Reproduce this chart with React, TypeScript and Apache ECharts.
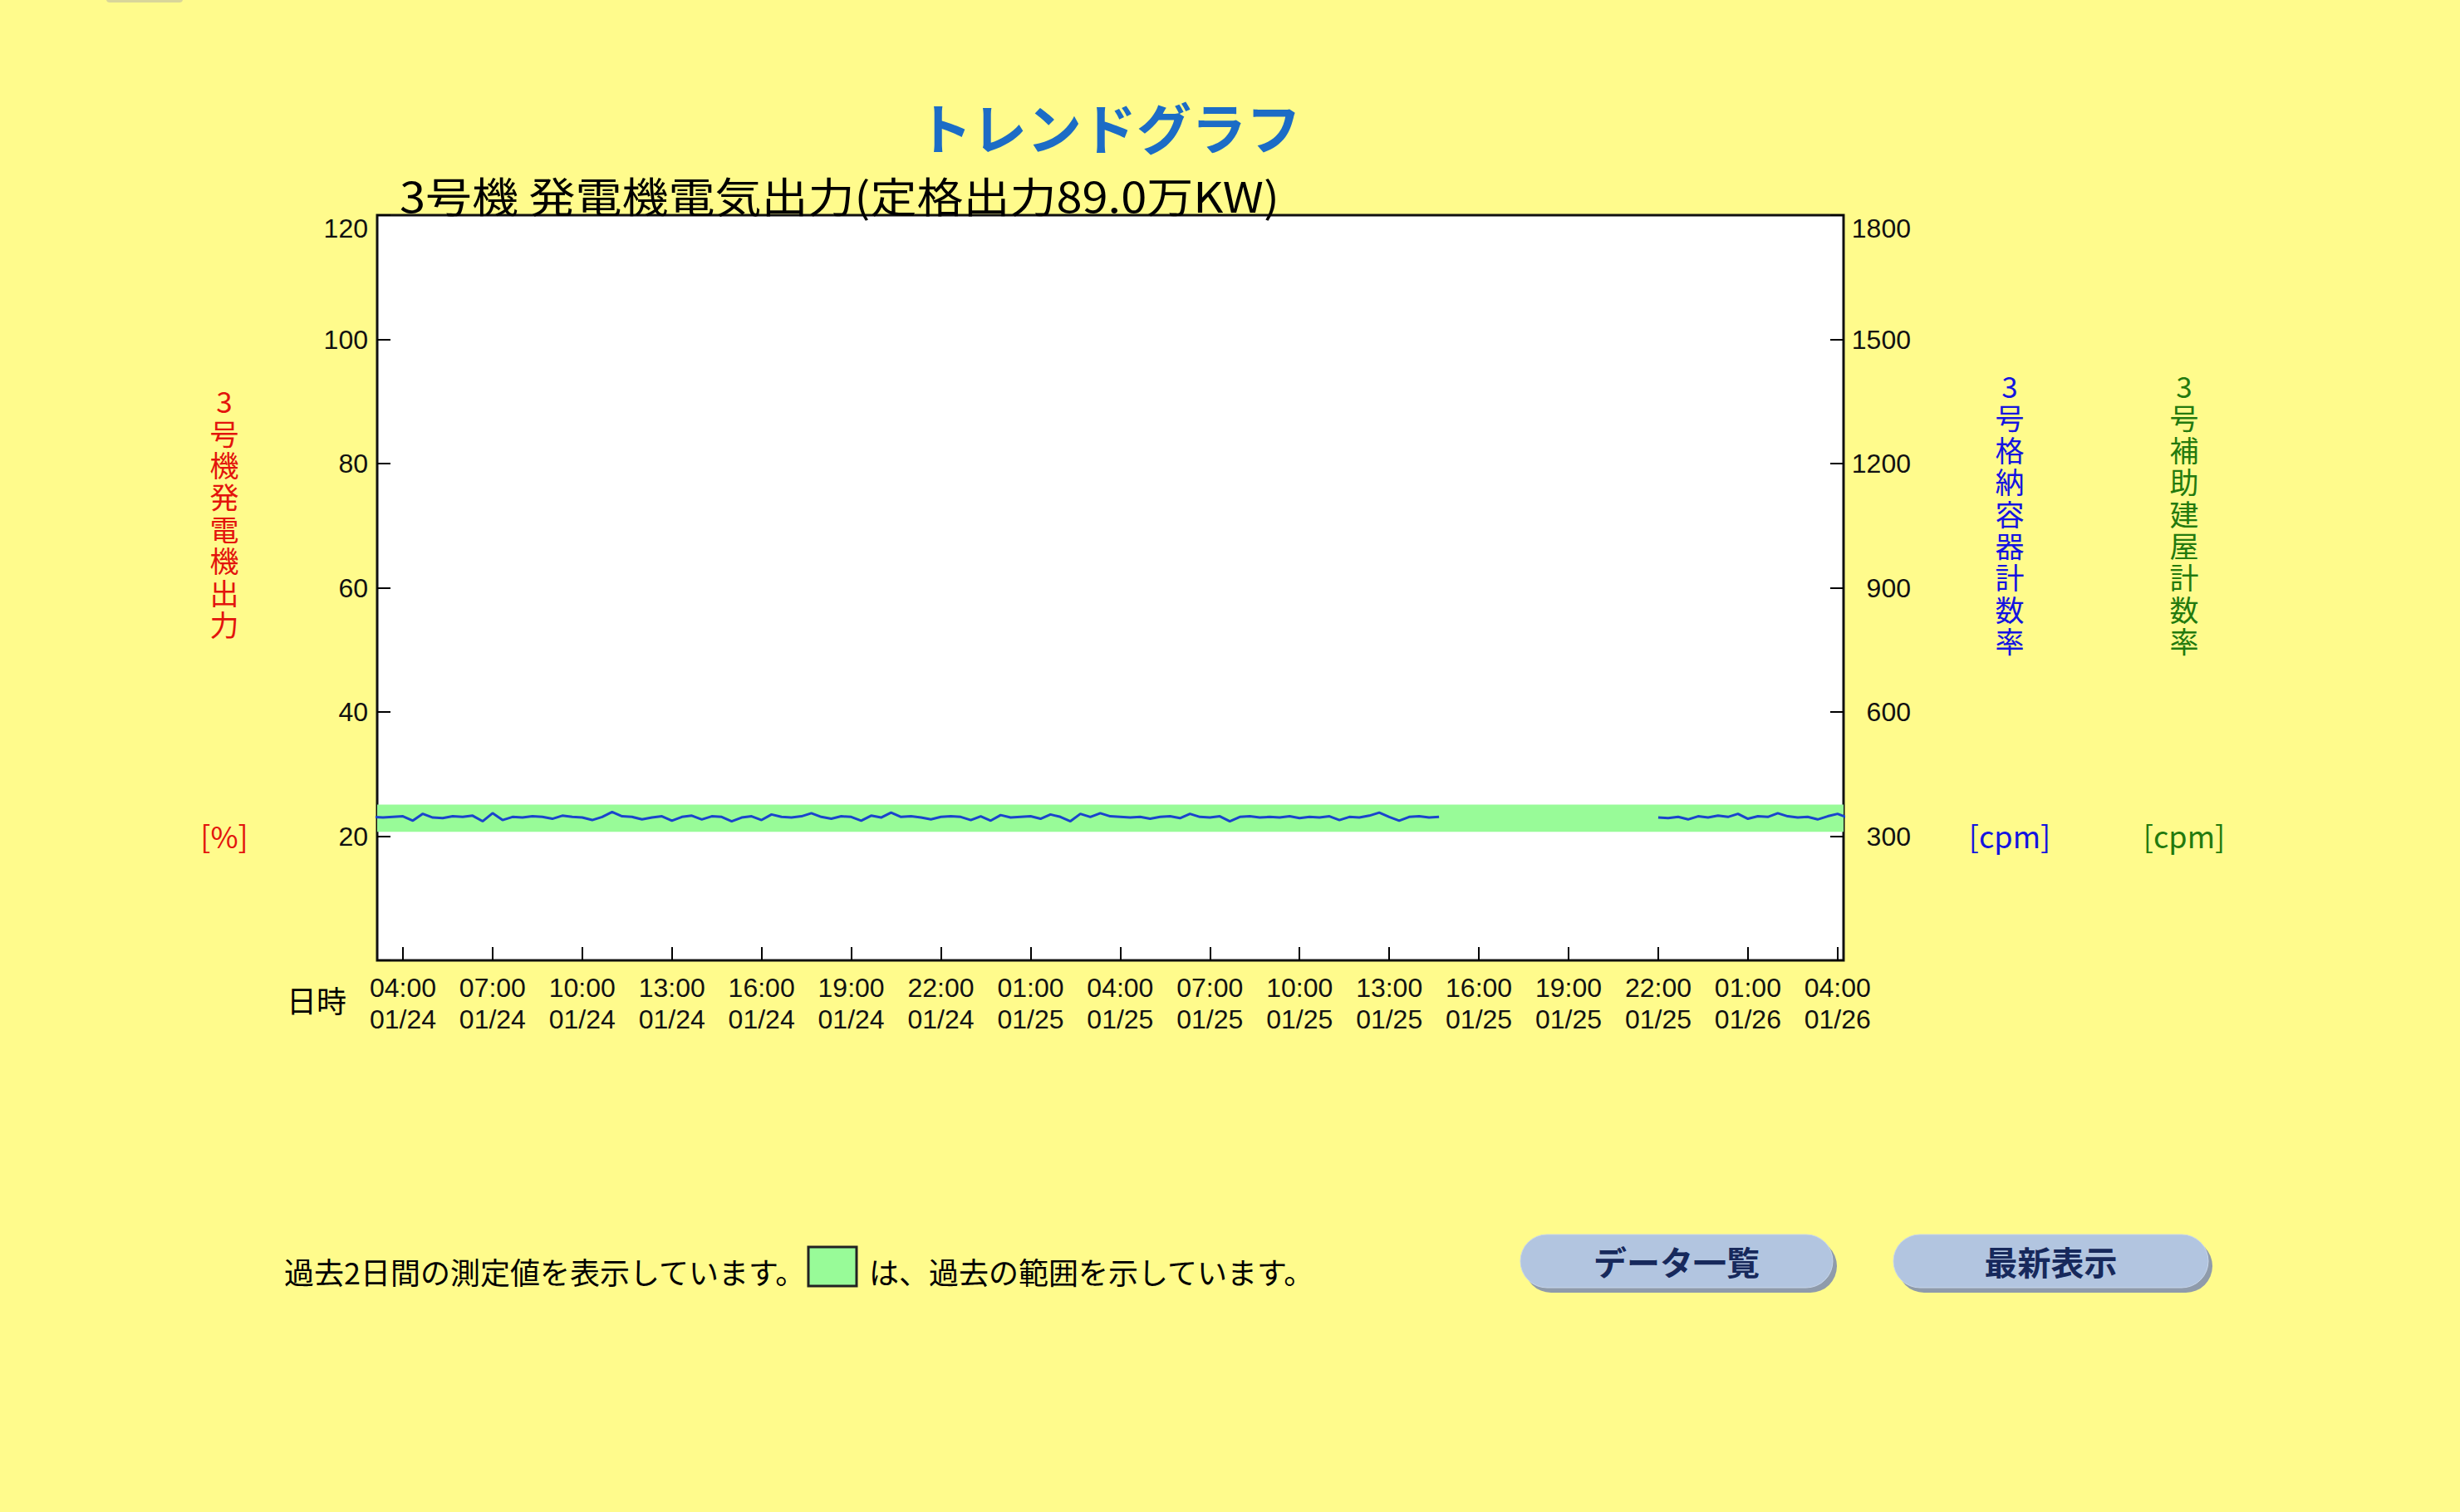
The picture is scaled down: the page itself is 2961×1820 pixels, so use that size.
import React, { useEffect, useRef } from "react";
import * as echarts from "echarts";

// ---- data ----
const TITLE = "トレンドグラフ";
const SUBTITLE = "3号機 発電機電気出力(定格出力89.0万KW)";
const LEFT_AXIS_NAME = "3号機発電機出力";
const RIGHT_AXIS_NAME_1 = "3号格納容器計数率";
const RIGHT_AXIS_NAME_2 = "3号補助建屋計数率";
const LEFT_UNIT = "[%]";
const RIGHT_UNIT = "[cpm]";
const X_NAME = "日時";
const NOTE_1 = "過去2日間の測定値を表示しています。";
const NOTE_2 = "は、過去の範囲を示しています。";
const BUTTONS = ["データ一覧", "最新表示"];

// hours counted from 01/24 00:00
const X_MIN = 3.14;
const X_MAX = 52.2;
const X_TICKS = [4, 7, 10, 13, 16, 19, 22, 25, 28, 31, 34, 37, 40, 43, 46, 49, 52];
const LEFT_Y_TICKS = [0, 20, 40, 60, 80, 100, 120];
const RIGHT_Y_TICKS = [0, 300, 600, 900, 1200, 1500, 1800];

// past range band (%)
const BAND_LOW = 20.7;
const BAND_HIGH = 25.1;

// measured output (%), every 20 min
const SEG1_START = 3.0; // 01/24 03:00
const SEG1_VALUES = [
  23.1, 23.0, 23.1, 23.2, 22.5, 23.6, 23.0, 22.9, 23.2, 23.1, 23.3, 22.4,
  23.7, 22.6, 23.1, 23.0, 23.2, 23.1, 22.8, 23.3, 23.1, 23.0, 22.6, 23.1,
  23.9, 23.2, 23.1, 22.7, 23.0, 23.2, 22.5, 23.1, 23.3, 22.7, 23.2, 23.1,
  22.4, 23.0, 23.2, 22.6, 23.5, 23.1, 23.0, 23.2, 23.7, 23.1, 22.8, 23.2,
  23.1, 22.5, 23.3, 23.0, 23.8, 23.1, 23.2, 23.0, 22.7, 23.1, 23.2, 23.1,
  22.6, 23.2, 22.5, 23.4, 23.0, 23.1, 23.2, 22.8, 23.5, 23.1, 22.4, 23.6,
  23.1, 23.7, 23.2, 23.1, 23.0, 23.1, 22.8, 23.1, 23.2, 22.9, 23.6, 23.1,
  23.0, 23.2, 22.4, 23.1, 23.2, 23.0, 23.1, 23.0, 23.2, 22.9, 23.1, 23.0,
  23.2, 22.6, 23.1, 23.0, 23.3, 23.8, 23.1, 22.5, 23.1, 23.2, 23.0, 23.1,
];
const SEG2_START = 46.0; // 01/25 22:00
const SEG2_VALUES = [
  23.0, 22.9, 23.1, 22.7, 23.2, 23.0, 23.3, 23.1, 23.6, 22.8,
  23.2, 23.1, 23.7, 23.2, 23.0, 23.1, 22.7, 23.2, 23.6, 23.0,
];
const STEP_H = 1 / 3;

// ---- styles ----
const BG = "#fffb8c";
const FONT_JP = "'Noto Sans CJK JP', 'Noto Sans', sans-serif";
const FONT_NUM = "'Liberation Sans', 'DejaVu Sans', sans-serif";
const RED = "#e3140c";
const BLUE = "#1414e0";
const GREEN = "#237a0e";

function fmtX(v: number) {
  const h = Math.round(v);
  const hh = ((h % 24) + 24) % 24;
  const day = 24 + Math.floor(h / 24);
  return `${String(hh).padStart(2, "0")}:00\n01/${day}`;
}

function verticalText(s: string, cx: number, cy: number, size: number, step: number, fill: string) {
  const chars = s.split("");
  const top = cy - ((chars.length - 1) * step) / 2;
  return chars.map((c, i) => ({
    type: "text",
    style: {
      text: c,
      x: cx,
      y: top + i * step,
      align: "center",
      verticalAlign: "middle",
      fontFamily: FONT_JP,
      fontSize: size,
      fill,
    },
  }));
}

export default function App() {
  const ref = useRef<HTMLDivElement>(null);

  useEffect(() => {
    if (!ref.current) return;
    const chart = echarts.init(ref.current, undefined, { renderer: "svg" });

    const lineData: (number | null)[][] = [];
    SEG1_VALUES.forEach((v, i) => lineData.push([SEG1_START + i * STEP_H, v]));
    lineData.push([(SEG1_START + SEG1_VALUES.length * STEP_H + SEG2_START) / 2, null]);
    SEG2_VALUES.forEach((v, i) => lineData.push([SEG2_START + i * STEP_H, v]));

    const tickStyle = { color: "#000", width: 2 };
    const numLabel = { fontFamily: FONT_NUM, fontSize: 32, color: "#111" };

    const button = (x: number, y: number, w: number, h: number, label: string) => ({
      type: "group",
      children: [
        {
          type: "rect",
          shape: { x: x + 5, y: y + 6, width: w, height: h, r: h / 2 },
          style: { fill: "#8f9bab" },
        },
        {
          type: "rect",
          shape: { x, y, width: w, height: h, r: h / 2 },
          style: { fill: "#b2c5e0", stroke: "#c8d6ea", lineWidth: 1 },
        },
        {
          type: "text",
          style: {
            text: label,
            x: x + w / 2,
            y: y + h / 2,
            align: "center",
            verticalAlign: "middle",
            fontFamily: FONT_JP,
            fontWeight: "bold",
            fontSize: 40,
            fill: "#17295c",
          },
        },
      ],
    });

    chart.setOption({
      animation: false,
      backgroundColor: BG,
      grid: {
        left: 454,
        top: 259,
        width: 1765,
        height: 897,
        show: true,
        backgroundColor: "#ffffff",
        borderColor: "#111",
        borderWidth: 3,
        containLabel: false,
      },
      xAxis: {
        type: "value",
        min: X_MIN,
        max: X_MAX,
        axisLine: { show: false },
        splitLine: { show: false },
        axisTick: {
          show: true,
          inside: true,
          length: 16,
          lineStyle: tickStyle,
          customValues: X_TICKS,
        },
        axisLabel: {
          ...numLabel,
          customValues: X_TICKS,
          formatter: (v: number) => fmtX(v),
          margin: 14,
          lineHeight: 38,
          showMinLabel: true,
          showMaxLabel: true,
        },
      },
      yAxis: [
        {
          type: "value",
          position: "left",
          min: 0,
          max: 120,
          interval: 20,
          axisLine: { show: false },
          splitLine: { show: false },
          axisTick: { show: true, inside: true, length: 16, lineStyle: tickStyle },
          axisLabel: {
            ...numLabel,
            customValues: LEFT_Y_TICKS,
            margin: 11,
            formatter: (v: number) => (v === 0 ? "" : String(v)),
            verticalAlignMaxLabel: "top",
          },
        },
        {
          type: "value",
          position: "right",
          min: 0,
          max: 1800,
          interval: 300,
          axisLine: { show: false },
          splitLine: { show: false },
          axisTick: { show: true, inside: true, length: 16, lineStyle: tickStyle },
          axisLabel: {
            ...numLabel,
            customValues: RIGHT_Y_TICKS,
            margin: 81,
            align: "right",
            formatter: (v: number) => (v === 0 ? "" : String(v)),
            verticalAlignMaxLabel: "top",
          },
        },
      ],
      series: [
        {
          type: "line",
          xAxisIndex: 0,
          yAxisIndex: 0,
          data: lineData,
          symbol: "none",
          connectNulls: false,
          clip: true,
          z: 5,
          lineStyle: { color: "#1a44cc", width: 3 },
          markArea: {
            silent: true,
            itemStyle: { color: "#98fb98", opacity: 1 },
            data: [[{ xAxis: X_MIN, yAxis: BAND_LOW }, { xAxis: X_MAX, yAxis: BAND_HIGH }]],
          },
        },
      ],
      graphic: [
        {
          type: "rect",
          shape: { x: 128, y: -10, width: 92, height: 13, r: 4 },
          style: { fill: "#d9d59a" },
        },
        {
          type: "text",
          style: {
            text: TITLE,
            x: 1335,
            y: 151,
            align: "center",
            verticalAlign: "middle",
            fontFamily: FONT_JP,
            fontWeight: "bold",
            fontSize: 66,
            fill: "#1c6cc6",
          },
        },
        {
          type: "text",
          x: 481,
          y: 234,
          scaleX: 1.12,
          style: {
            text: SUBTITLE,
            x: 0,
            y: 0,
            align: "left",
            verticalAlign: "middle",
            fontFamily: FONT_JP,
            fontSize: 50,
            fill: "#000",
          },
        },
        ...verticalText(LEFT_AXIS_NAME, 270, 616, 35, 38.4, RED),
        {
          type: "text",
          style: {
            text: LEFT_UNIT,
            x: 270,
            y: 1005,
            align: "center",
            verticalAlign: "middle",
            fontFamily: FONT_JP,
            fontSize: 36,
            fill: RED,
          },
        },
        ...verticalText(RIGHT_AXIS_NAME_1, 2419, 617, 35, 38.4, BLUE),
        {
          type: "text",
          style: {
            text: RIGHT_UNIT,
            x: 2419,
            y: 1005,
            align: "center",
            verticalAlign: "middle",
            fontFamily: FONT_JP,
            fontSize: 36,
            fill: BLUE,
          },
        },
        ...verticalText(RIGHT_AXIS_NAME_2, 2629, 617, 35, 38.4, GREEN),
        {
          type: "text",
          style: {
            text: RIGHT_UNIT,
            x: 2629,
            y: 1005,
            align: "center",
            verticalAlign: "middle",
            fontFamily: FONT_JP,
            fontSize: 36,
            fill: GREEN,
          },
        },
        {
          type: "text",
          style: {
            text: X_NAME,
            x: 381,
            y: 1203,
            align: "center",
            verticalAlign: "middle",
            fontFamily: FONT_JP,
            fontSize: 36,
            fill: "#000",
          },
        },
        {
          type: "text",
          style: {
            text: NOTE_1,
            x: 342,
            y: 1530,
            align: "left",
            verticalAlign: "middle",
            fontFamily: FONT_JP,
            fontSize: 36,
            fill: "#000",
          },
        },
        {
          type: "rect",
          shape: { x: 973, y: 1501, width: 58, height: 47 },
          style: { fill: "#98fb98", stroke: "#222", lineWidth: 3 },
        },
        {
          type: "text",
          style: {
            text: NOTE_2,
            x: 1046,
            y: 1530,
            align: "left",
            verticalAlign: "middle",
            fontFamily: FONT_JP,
            fontSize: 36,
            fill: "#000",
          },
        },
        button(1830, 1486, 376, 64, BUTTONS[0]),
        button(2279, 1486, 379, 64, BUTTONS[1]),
      ],
    });

    return () => chart.dispose();
  }, []);

  return (
    <div
      style={{
        position: "fixed",
        left: 0,
        top: 0,
        width: 2961,
        height: 1820,
        background: BG,
        margin: 0,
      }}
    >
      <div ref={ref} style={{ width: 2961, height: 1820 }} />
    </div>
  );
}
